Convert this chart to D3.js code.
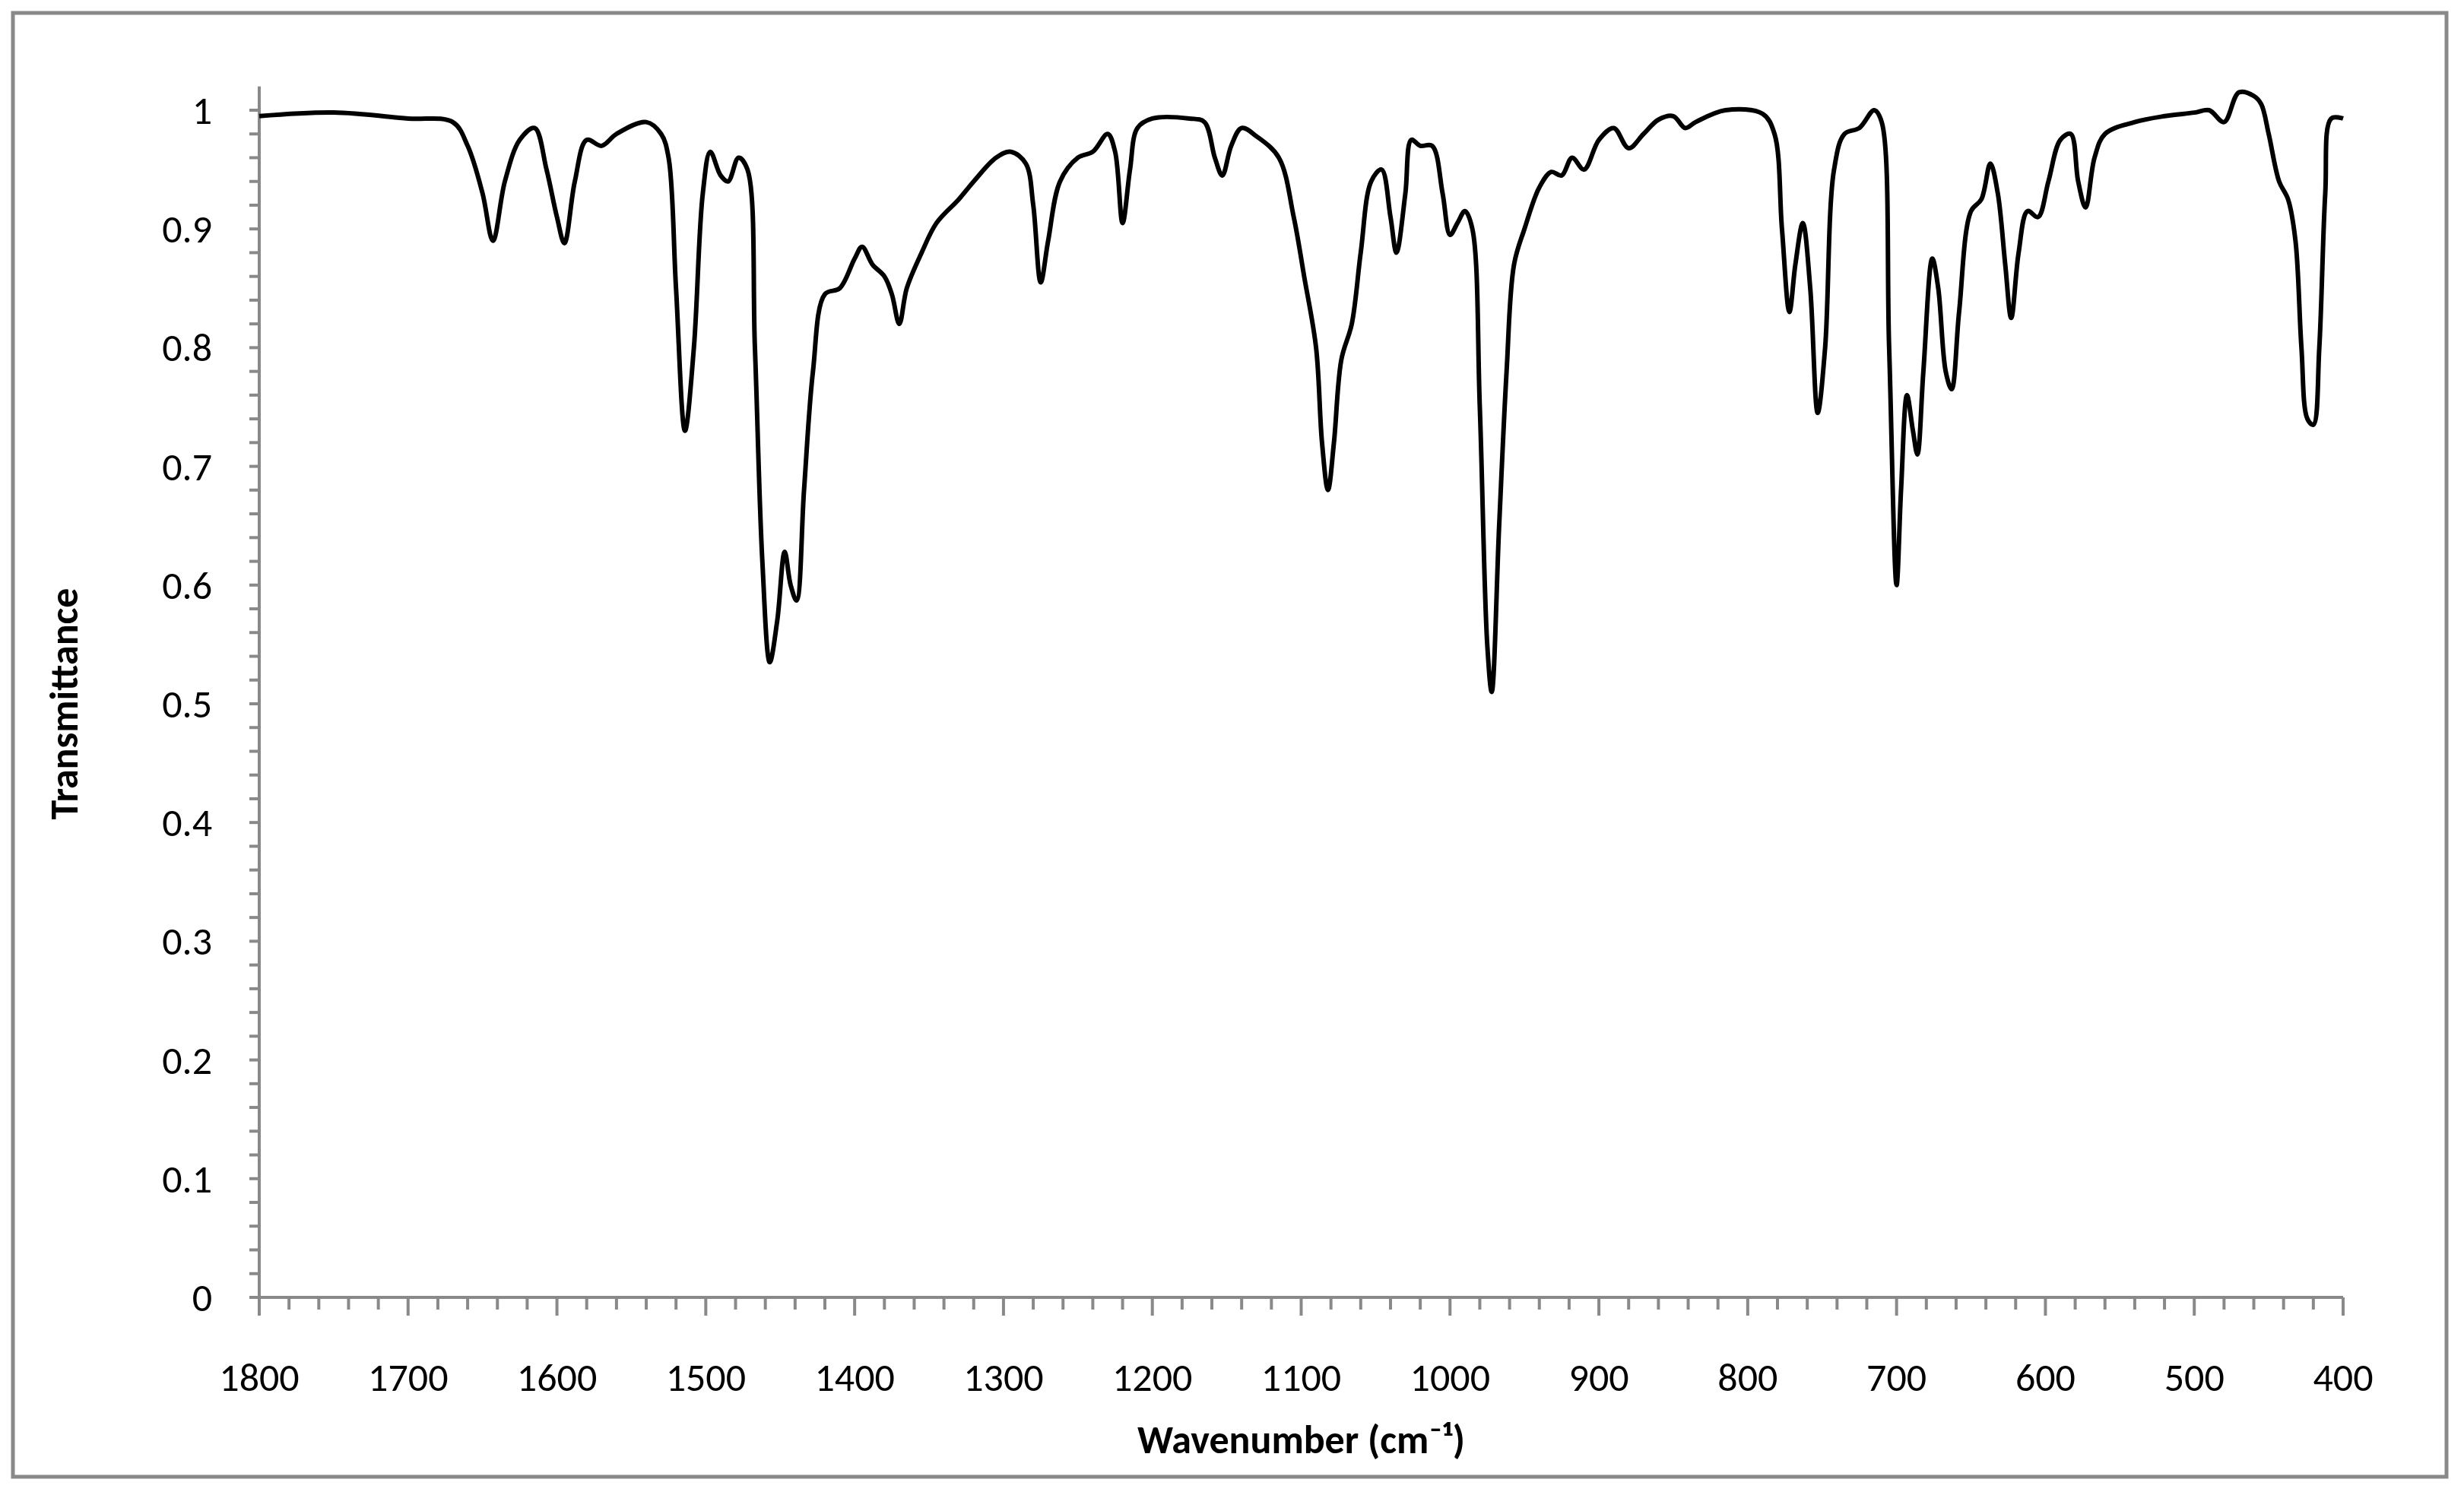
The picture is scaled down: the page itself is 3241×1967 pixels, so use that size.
<!DOCTYPE html>
<html><head><meta charset="utf-8">
<script src="https://cdn.jsdelivr.net/npm/d3@7"></script>
<style>body{margin:0;background:#fff}svg{display:block}</style></head>
<body><svg id="c" width="3241" height="1967"></svg>
<script>
const wavenumber=[1800,1750,1700,1670,1660,1650,1643,1635,1625,1615,1607,1600,1595,1588,1580,1570,1560,1540,1530,1525,1520,1514,1508,1502,1497,1490,1485,1478,1472,1467,1462,1457,1452,1447,1443,1439,1434,1428,1420,1410,1400,1395,1388,1380,1375,1370,1365,1355,1345,1330,1320,1305,1295,1285,1280,1275,1270,1262,1250,1240,1230,1225,1220,1215,1210,1200,1175,1165,1158,1153,1147,1140,1130,1115,1105,1098,1090,1086,1082,1078,1073,1066,1060,1053,1046,1040,1036,1030,1026,1020,1012,1005,1000,995,990,985,980,975,972,967,962,957,950,940,932,925,918,910,900,890,880,870,860,850,842,835,815,790,782,777,772,768,763,758,753,748,742,735,725,715,710,705,700,697,693,689,686,682,676,672,667,663,658,650,643,637,632,627,623,618,612,605,598,590,583,578,573,567,560,540,520,500,490,480,470,460,455,450,443,437,432,428,424,420,416,412,408,400];
const transmittance=[0.995,0.998,0.993,0.99,0.97,0.93,0.89,0.94,0.975,0.985,0.95,0.91,0.888,0.94,0.975,0.97,0.98,0.99,0.98,0.96,0.85,0.73,0.80,0.93,0.965,0.945,0.94,0.96,0.95,0.80,0.62,0.535,0.57,0.628,0.60,0.587,0.68,0.78,0.845,0.85,0.875,0.885,0.87,0.86,0.845,0.82,0.85,0.88,0.905,0.925,0.94,0.96,0.965,0.955,0.92,0.855,0.89,0.94,0.96,0.965,0.98,0.965,0.905,0.95,0.985,0.993,0.993,0.99,0.96,0.945,0.97,0.985,0.978,0.96,0.91,0.86,0.80,0.72,0.68,0.72,0.79,0.82,0.88,0.94,0.95,0.91,0.88,0.93,0.975,0.97,0.97,0.93,0.895,0.905,0.915,0.90,0.75,0.55,0.51,0.65,0.78,0.87,0.90,0.935,0.948,0.945,0.96,0.95,0.975,0.985,0.968,0.98,0.992,0.995,0.985,0.99,1.0,0.997,0.98,0.90,0.83,0.87,0.905,0.85,0.745,0.80,0.95,0.98,0.985,1.0,0.99,0.80,0.60,0.68,0.76,0.73,0.71,0.78,0.875,0.85,0.78,0.765,0.83,0.915,0.925,0.955,0.93,0.87,0.825,0.88,0.915,0.91,0.94,0.975,0.98,0.94,0.918,0.96,0.98,0.99,0.995,0.998,1.0,0.99,1.015,1.012,1.005,0.98,0.94,0.925,0.89,0.80,0.74,0.735,0.80,0.93,0.993,0.993];
const xTicks=[1800,1700,1600,1500,1400,1300,1200,1100,1000,900,800,700,600,500,400];
const yTicks=[0,0.1,0.2,0.3,0.4,0.5,0.6,0.7,0.8,0.9,1];

const svg=d3.select("#c");
const L=341,R=3082,T=145,B=1707;
const x=d3.scaleLinear().domain([1800,400]).range([L,R]);
const y=d3.scaleLinear().domain([0,1]).range([B,T]);
const grey="#898989";
svg.append("rect").attr("x",17).attr("y",17).attr("width",3201).attr("height",1926).attr("fill","none").attr("stroke",grey).attr("stroke-width",5);
const font="Calibri, Carlito, 'Open Sans', sans-serif";
const xm=d3.range(1800,399,-20), ym=d3.range(0,1.001,0.02);
const g=svg.append("g").attr("stroke",grey).attr("stroke-width",4);
xm.forEach(v=>g.append("line").attr("x1",x(v)).attr("x2",x(v)).attr("y1",B).attr("y2",B+(xTicks.includes(v)?24:16)));
ym.forEach(v=>g.append("line").attr("x1",L-13).attr("x2",L).attr("y1",y(v)).attr("y2",y(v)));
g.append("line").attr("x1",L).attr("x2",R).attr("y1",B).attr("y2",B);
g.append("line").attr("x1",L).attr("x2",L).attr("y1",B+24).attr("y2",y(1.02));
svg.append("g").selectAll("text").data(xTicks).join("text").attr("x",d=>x(d)).attr("y",1830)
 .attr("text-anchor","middle").attr("font-family",font).attr("font-size",52).text(d=>d);
svg.append("g").selectAll("text").data(yTicks).join("text").attr("x",279).attr("y",d=>y(d)+18)
 .attr("text-anchor","end").attr("font-family",font).attr("font-size",52).text(d=>d);
svg.append("text").attr("x",(L+R)/2).attr("y",1912).attr("text-anchor","middle").attr("font-family",font)
 .attr("font-weight","bold").attr("font-size",52).text("Wavenumber (cm⁻¹)");
svg.append("text").attr("transform",`translate(102,${(T+B)/2}) rotate(-90)`).attr("text-anchor","middle").attr("font-family",font)
 .attr("font-weight","bold").attr("font-size",52).text("Transmittance");
const pts=wavenumber.map((w,i)=>[w,transmittance[i]]);
svg.append("path").datum(pts).attr("fill","none").attr("stroke","#000").attr("stroke-width",6).attr("stroke-linejoin","round")
 .attr("d",d3.line().x(d=>x(d[0])).y(d=>y(d[1])).curve(d3.curveCatmullRom.alpha(0.5)));
</script></body></html>
